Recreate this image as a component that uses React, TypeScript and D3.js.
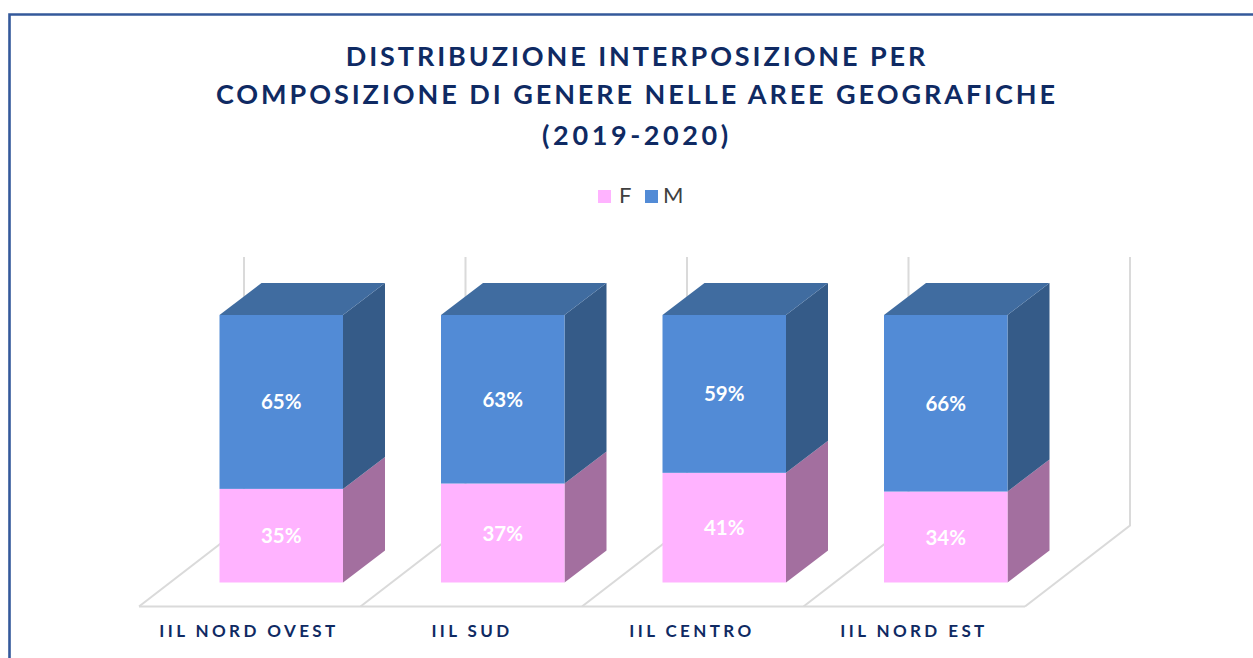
import React from "react";
import * as d3 from "d3";

const categories = ["IIL NORD OVEST", "IIL SUD", "IIL CENTRO", "IIL NORD EST"];
const seriesF = [35, 37, 41, 34];
const seriesM = [65, 63, 59, 66];
const titleLines = [
  "DISTRIBUZIONE INTERPOSIZIONE PER",
  "COMPOSIZIONE DI GENERE NELLE AREE GEOGRAFICHE",
  "(2019-2020)",
];
const legendItems = ["F", "M"];

const FONT = "Lato, 'Open Sans', sans-serif";
const NAVY = "#0F2A63";
const GRID = "#DADADA";
const DX = 42;
const DY = -32;
const FLOOR_DX = 106;
const FLOOR_DY = -81;

const x = d3.scaleBand<string>().domain(categories).range([139, 1025]).paddingInner(0).paddingOuter(0);
const y = d3.scaleLinear().domain([0, 100]).range([582.5, 315]);
const floorY = 606.5;
const BAR_W = 123.5;
const barX = (c: string) => (x(c) as number) + 80.5;

const poly = (pts: [number, number][]) => d3.line()(pts) + "Z";

function Seg({ x0, y0, y1, front, side, top, label }: { x0: number; y0: number; y1: number; front: string; side: string; top?: string; label: string }) {
  const xr = x0 + BAR_W;
  return (
    <g>
      <path d={poly([[xr, y0], [xr + DX, y0 + DY], [xr + DX, y1 + DY], [xr, y1]])} fill={side} />
      {top && <path d={poly([[x0, y1], [x0 + DX, y1 + DY], [xr + DX, y1 + DY], [xr, y1]])} fill={top} />}
      <rect x={x0} y={y1} width={BAR_W} height={y0 - y1} fill={front} />
      <text x={x0 + BAR_W / 2} y={(y0 + y1) / 2 + 7.5} textAnchor="middle" fontFamily={FONT} fontWeight={700} fontSize={20.5} fill="#fff">{label}</text>
    </g>
  );
}

export default function App() {
  const walls = [...categories.map((c) => x(c) as number), 1025];
  return (
    <svg width={1253} height={658} style={{ position: "absolute", left: 0, top: 0, background: "#fff" }}>
      <path d="M9.5 658V14.5H1253" fill="none" stroke="#34599B" strokeWidth={2.6} />
      {titleLines.map((t, i) => (
        <text key={t} x={637} y={[66, 104, 145][i]} textAnchor="middle" fontFamily={FONT} fontWeight={700} fontSize={27} letterSpacing={[2.9, 2.93, 3.6][i]} fill={NAVY}>{t}</text>
      ))}
      {legendItems.map((l, i) => (
        <g key={l}>
          <rect x={[598, 645][i]} y={190} width={13} height={13} fill={["#FFB3FF", "#528BD6"][i]} />
          <text x={[619, 663][i]} y={203} fontFamily={FONT} fontSize={22} fill="#404040">{l}</text>
        </g>
      ))}
      <g stroke={GRID} strokeWidth={2} fill="none">
        {walls.map((w) => (
          <path key={w} d={`M${w} ${floorY}L${w + FLOOR_DX - 1} ${floorY + FLOOR_DY}V257`} />
        ))}
        <path d={`M${walls[0]} ${floorY}H${walls[4]}`} />
      </g>
      {categories.map((c, i) => {
        const x0 = barX(c);
        const yF = y(seriesF[i]);
        return (
          <g key={c}>
            <Seg x0={x0} y0={y(0)} y1={yF} front="#FFB3FF" side="#A36F9F" label={`${seriesF[i]}%`} />
            <Seg x0={x0} y0={yF} y1={y(seriesF[i] + seriesM[i])} front="#528BD6" side="#355B88" top="#406CA0" label={`${seriesM[i]}%`} />
            <text x={[249, 472, 692, 914][i]} y={637} textAnchor="middle" fontFamily={FONT} fontWeight={700} fontSize={17} letterSpacing={3.4} fill={NAVY}>{c}</text>
          </g>
        );
      })}
    </svg>
  );
}
